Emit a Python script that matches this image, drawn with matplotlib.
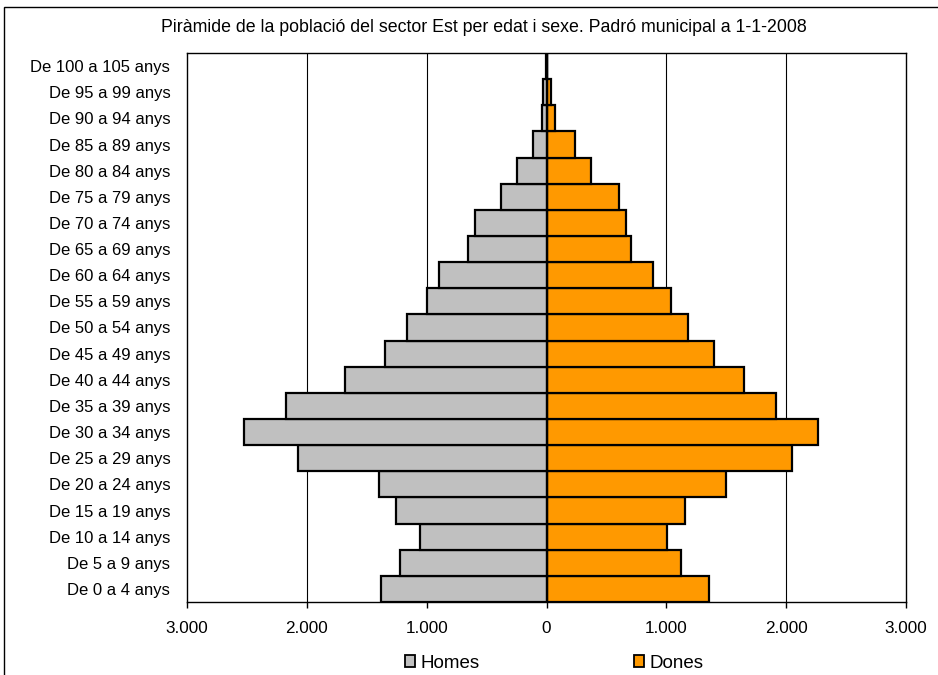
import numpy as np
import matplotlib.pyplot as plt
from matplotlib.patches import Patch, Rectangle
from matplotlib.ticker import FuncFormatter

plt.rcParams['font.family'] = ['Liberation Sans', 'DejaVu Sans']

# age groups, from youngest to oldest
groups = ["De 0 a 4 anys", "De 5 a 9 anys", "De 10 a 14 anys", "De 15 a 19 anys",
          "De 20 a 24 anys", "De 25 a 29 anys", "De 30 a 34 anys", "De 35 a 39 anys",
          "De 40 a 44 anys", "De 45 a 49 anys", "De 50 a 54 anys", "De 55 a 59 anys",
          "De 60 a 64 anys", "De 65 a 69 anys", "De 70 a 74 anys", "De 75 a 79 anys",
          "De 80 a 84 anys", "De 85 a 89 anys", "De 90 a 94 anys", "De 95 a 99 anys",
          "De 100 a 105 anys"]

homes = [1385, 1220, 1052, 1254, 1400, 2072, 2522, 2170, 1685, 1350, 1168, 1000,
         900, 653, 600, 382, 250, 115, 34, 28, 2]
dones = [1360, 1125, 1002, 1158, 1495, 2050, 2266, 1912, 1645, 1395, 1180, 1038,
         890, 708, 660, 609, 375, 237, 72, 34, 2]

title = "Piràmide de la població del sector Est per edat i sexe. Padró municipal a 1-1-2008"

grey = "#C0C0C0"
orange = "#FF9900"

fig = plt.figure(figsize=(9.38, 6.75), dpi=100)
W, H = 938, 675
ax = fig.add_axes([187 / W, 1 - 602 / H, (906 - 187) / W, (602 - 53) / H])

y = np.arange(len(groups))
ax.barh(y, -np.array(homes), height=1.0, color=grey, edgecolor="black", linewidth=1.6, zorder=3)
ax.barh(y, dones, height=1.0, color=orange, edgecolor="black", linewidth=1.6, zorder=3)

# vertical gridlines and the zero axis
for gx in [-2000, -1000, 1000, 2000]:
    ax.axvline(gx, color="black", linewidth=0.8, zorder=1)
ax.axvline(0, color="black", linewidth=1.0, zorder=4)

ax.set_xlim(-3000, 3000)
ax.set_ylim(-0.5, len(groups) - 0.5)
ax.set_xticks(np.arange(-3000, 3001, 1000))
ax.xaxis.set_major_formatter(FuncFormatter(lambda v, p: f"{abs(int(v)):,}".replace(",", ".")))
ax.set_yticks(y)
ax.set_yticklabels(groups)
ax.tick_params(axis="y", length=0, pad=12, labelsize=12)
ax.tick_params(axis="x", length=4, width=1, direction="out", labelsize=12.3, pad=10)
for s in ax.spines.values():
    s.set_linewidth(1.0)

fig.text(483.5 / W, 1 - 27 / H, title, ha="center", va="center", fontsize=12.8)

handles = [Patch(facecolor=grey, edgecolor="black", linewidth=1.3, label="Homes"),
           Patch(facecolor=orange, edgecolor="black", linewidth=1.3, label="Dones")]
fig.legend(handles=handles, loc="center left", bbox_to_anchor=(405 / W, 1 - 663 / H), ncol=2,
           frameon=False, fontsize=13.5, handlelength=0.55, handleheight=0.55,
           handletextpad=0.3, columnspacing=8.2, borderpad=0, borderaxespad=0)

# chart border
fig.patches.append(Rectangle((4 / W, -0.01), (940 - 4) / W, (H - 7) / H + 0.01,
                             transform=fig.transFigure, fill=False, edgecolor="black",
                             linewidth=1.0, clip_on=False))

plt.savefig("out.png", dpi=100)
